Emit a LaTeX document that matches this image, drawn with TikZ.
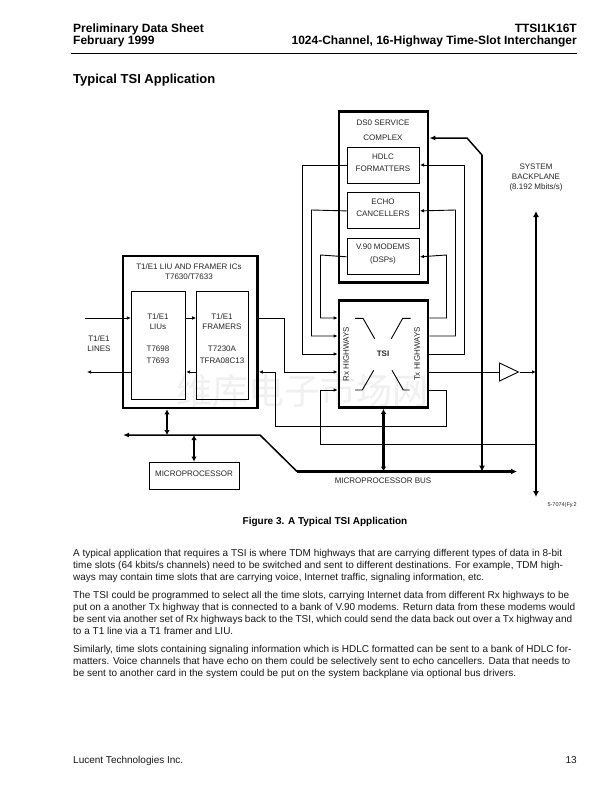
\documentclass[tikz,border=0pt]{standalone}
\usepackage{fontspec}
\setmainfont{Liberation Sans}
\newfontfamily\wmfont{Noto Sans CJK SC}
\usetikzlibrary{arrows.meta,positioning,shapes.geometric}

\begin{document}
\begin{tikzpicture}[
  x=1pt,y=-1pt,
  heavybox/.style={draw,line width=2.8pt,inner sep=0pt},
  subbox/.style={draw,line width=.9pt,inner sep=0pt},
  boxtext/.style={inner sep=0pt,align=center,text=black!85,font=\fontsize{8}{10}\selectfont},
  pagetext/.style={inner sep=0pt,align=left,text=black!90,font=\fontsize{10}{12}\selectfont},
  headtext/.style={inner sep=0pt,font=\fontsize{12}{14}\selectfont\bfseries},
  signal/.style={line width=.9pt},
  flow/.style={line width=.9pt,-{Latex[length=4pt,width=3.6pt]}},
  thinbus/.style={line width=1.5pt},
  bus/.style={line width=2.6pt},
  busend/.style={-{Latex[length=6pt,width=6pt]}},
  busboth/.style={line width=2.2pt,{Latex[length=5pt,width=5.5pt]}-{Latex[length=5pt,width=5.5pt]}},
  swpath/.style={line width=.9pt}
]
\useasboundingbox (0,0) rectangle (612,792);
\fill[white] (0,0) rectangle (612,792);

% watermark
\node[inner sep=0pt,text=black!6,font=\fontsize{36}{36}\wmfont] (mark) at (302,391) {维库电子市场网};

% page head
\node[headtext,anchor=base west] (headl) at (73,33) {Preliminary Data Sheet};
\node[headtext,anchor=base west] (headm) at (73,45) {February 1999};
\node[headtext,anchor=base east] (headr) at (577,33) {TTSI1K16T};
\node[headtext,anchor=base east] (heads) at (577,45) {1024-Channel, 16-Highway Time-Slot Interchanger};
\coordinate (rulel) at (71,53.5);
\coordinate (ruler) at (577,53.5);
\draw[line width=.8pt] (rulel) -- (ruler);
\node[inner sep=0pt,anchor=base west,font=\fontsize{13}{15}\selectfont\bfseries] (title) at (73,84) {Typical TSI Application};

% DS0 complex
\node[heavybox,minimum width=89pt,minimum height=171pt] (ds0) at (383.5,197) {};
\node[boxtext] (ds0text) at (383,130.5) {DS0 SERVICE\\[5pt]COMPLEX};
\node[subbox,minimum width=72.5pt,minimum height=36pt] (hdlc) at (383.3,165) {};
\node[subbox,minimum width=72.5pt,minimum height=36pt,below=9pt of hdlc] (echo) {};
\node[subbox,minimum width=72.5pt,minimum height=36pt,below=9pt of echo] (v90) {};
\node[boxtext] (hdlctext) at (383,163) {HDLC\\[2pt]FORMATTERS};
\node[boxtext] (echotext) at (383,208) {ECHO\\[2pt]CANCELLERS};
\node[boxtext] (v90text) at (383,254) {V.90 MODEMS\\[3pt](DSPs)};

% TSI
\node[heavybox,minimum width=89pt,minimum height=107pt] (tsi) at (383.5,354) {};
\node[boxtext,font=\fontsize{8}{10}\selectfont\bfseries] (tsitext) at (383,354) {TSI};
\node[boxtext,rotate=90] (rxtext) at (346,354) {Rx HIGHWAYS};
\node[boxtext,rotate=90] (txtext) at (417,354) {Tx HIGHWAYS};
\draw[swpath] (355,318.3) -- (363,318.3) -- (374.7,338.7);
\draw[swpath] (410.7,318.3) -- (402.7,318.3) -- (391.3,338.7);
\draw[swpath] (355,390) -- (362.3,390) -- (373.7,370.3);
\draw[swpath] (409.7,390) -- (403.3,390) -- (392,370.3);

% T1/E1 block
\node[heavybox,minimum width=134.5pt,minimum height=152pt] (t1box) at (190.2,332) {};
\node[boxtext] (t1text) at (189,272) {T1/E1 LIU AND FRAMER ICs\\T7630/T7633};
\node[subbox,minimum width=54.5pt,minimum height=108pt] (liu) at (158.5,345) {};
\node[subbox,minimum width=52pt,minimum height=108pt,right=10pt of liu] (fram) {};
\node[boxtext] (liutext) at (158,339) {T1/E1\\LIUs\\[12pt]T7698\\[2pt]T7693};
\node[boxtext] (framtext) at (222,339) {T1/E1\\FRAMERS\\[12pt]T7230A\\[2pt]TFRA08C13};
\node[boxtext] (linetext) at (99,344) {T1/E1\\LINES};

% microprocessor
\node[subbox,minimum width=90pt,minimum height=27pt] (micro) at (194,475.5) {};
\node[boxtext] (microtext) at (194,474) {MICROPROCESSOR};
\node[boxtext] (bustext) at (383,481) {MICROPROCESSOR BUS};

% backplane
\node[boxtext] (sysback) at (536,178) {SYSTEM\\BACKPLANE\\(8.192 Mbits/s)};
\coordinate (backtop) at (536,211);
\coordinate (backbot) at (536,497);
\draw[bus,{Latex[length=6pt,width=6pt]}-{Latex[length=6pt,width=6pt]}] (backtop) -- (backbot);
\node[boxtext,anchor=east,font=\fontsize{5.5}{7}\selectfont] (figid) at (577,505) {5-7074(Fy.2};

% highways to the service complex
\coordinate (rxone) at (302,165);
\coordinate (rxtwo) at (311.5,210);
\coordinate (rxthree) at (320.5,255);
\coordinate (txone) at (464.5,165);
\coordinate (txtwo) at (455.5,210);
\coordinate (txthree) at (446.5,255);
\draw[flow] (hdlc.west) -- (rxone) |- (tsi.west);
\draw[flow] (echo.west) -- (rxtwo) |- ([yshift=18pt]tsi.west);
\draw[flow] (v90.west) -- (rxthree) |- ([yshift=36pt]tsi.west);
\draw[flow] (tsi.east) -| (txone) -- (hdlc.east);
\draw[flow] ([yshift=18pt]tsi.east) -| (txtwo) -- (echo.east);
\draw[flow] ([yshift=36pt]tsi.east) -| (txthree) -- (v90.east);

% T1/E1 links
\coordinate (linein) at (85,318);
\coordinate (lineout) at (87,372);
\coordinate (frbend) at (284,318);
\coordinate (retbend) at (275,372);
\coordinate (retlow) at (275,426);
\coordinate (rettx) at (446.5,426);
\draw[flow] (linein) -- (liu.west |- linein);
\draw[flow] (liu.west |- lineout) -- (lineout);
\draw[flow] (liu.east |- linein) -- (fram.west |- linein);
\draw[flow] (fram.west |- lineout) -- (liu.east |- lineout);
\draw[flow] (t1box.east |- linein) -- (frbend) |- ([yshift=-18pt]tsi.west);
\draw[flow] ([yshift=-36pt]tsi.east) -| (rettx) -- (retlow) -- (retbend) -- (t1box.east |- retbend);

% backplane links
\coordinate (backlow) at (320.5,444);
\coordinate (backhit) at (536,444);
\draw[flow] (backhit) -- (backlow) |- ([yshift=-36pt]tsi.west);
\node[draw,line width=.9pt,isosceles triangle,isosceles triangle stretches,minimum height=19pt,minimum width=18pt,inner sep=0pt,anchor=lower side] (driver) at (499,372) {};
\coordinate (backin) at (536,372);
\draw[signal] ([yshift=-18pt]tsi.east) -- (driver.lower side);
\draw[flow] (driver.apex) -- (backin);

% processor bus
\coordinate (busleft) at (123,435);
\coordinate (busbend) at (260,435);
\coordinate (busknee) at (297,471.5);
\coordinate (busright) at (517,471.5);
\coordinate (upbus) at (482,155);
\coordinate (upbend) at (467,138);
\coordinate (t1drop) at (167,435);
\coordinate (microup) at (194,435);
\draw[thinbus,{Latex[length=6pt,width=5pt]}-] (busleft) -- (busbend) -- (busknee);
\draw[bus,busend] (busknee) -- (busright);
\draw[thinbus,{Latex[length=6pt,width=5pt]}-] (ds0.east |- upbend) -- (upbend) -- (upbus);
\draw[bus,-{Latex[length=6pt,width=6pt]}] (upbus) -- (upbus |- busright);
\draw[busboth] (tsi.south) -- (tsi.south |- busright);
\draw[busboth] (t1drop |- t1box.south) -- (t1drop);
\draw[busboth] (microup) -- (micro.north);

% page text
\node[inner sep=0pt,font=\fontsize{10}{12}\selectfont\bfseries] (caption) at (325,522) {Figure 3. A Typical TSI Application};
\node[pagetext,anchor=north west] (parone) at (73,549) {A typical application that requires a TSI is where TDM highways that are carrying different types of data in 8-bit\\
time slots (64 kbits/s channels) need to be switched and sent to different destinations. For example, TDM high-\\
ways may contain time slots that are carrying voice, Internet traffic, signaling information, etc.};
\node[pagetext,anchor=north west] (partwo) at (73,591) {The TSI could be programmed to select all the time slots, carrying Internet data from different Rx highways to be\\
put on a another Tx highway that is connected to a bank of V.90 modems. Return data from these modems would\\
\hbox to 499pt{be sent via another set of Rx highways back to the TSI, which could send the data back out over a Tx highway and}\\
to a T1 line via a T1 framer and LIU.};
\node[pagetext,anchor=north west] (parthree) at (73,645) {Similarly, time slots containing signaling information which is HDLC formatted can be sent to a bank of HDLC for-\\
matters. Voice channels that have echo on them could be selectively sent to echo cancellers. Data that needs to\\
be sent to another card in the system could be put on the system backplane via optional bus drivers.};
\node[pagetext,anchor=base west] (footl) at (73,763) {Lucent Technologies Inc.};
\node[pagetext,anchor=base east] (footr) at (577,763) {13};
\end{tikzpicture}
\end{document}
